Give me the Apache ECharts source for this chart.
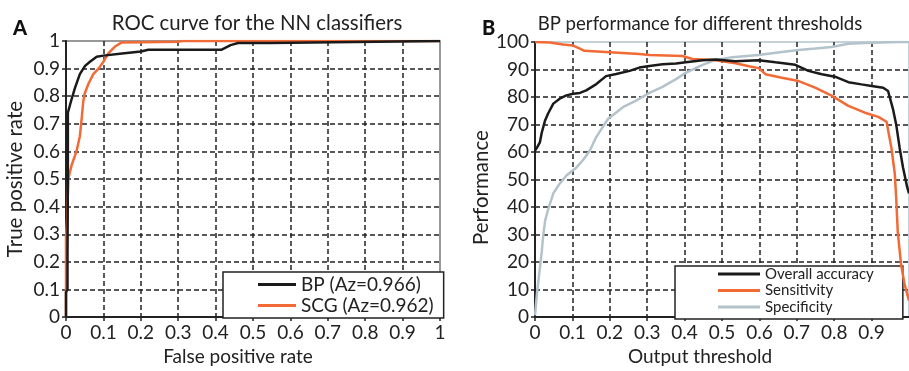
<!DOCTYPE html>
<html>
<head>
<meta charset="utf-8">
<script src="https://cdn.jsdelivr.net/npm/echarts@6/dist/echarts.min.js"></script>
<style>html,body{margin:0;padding:0;background:#fff;}#c{width:909px;height:371px;}</style>
</head>
<body>
<div id="c"></div>
<script>
// ---- Data ----
const rocTicks = [0, 0.1, 0.2, 0.3, 0.4, 0.5, 0.6, 0.7, 0.8, 0.9, 1];
const perfTicks = [0, 10, 20, 30, 40, 50, 60, 70, 80, 90, 100];

// ROC curve, BP classifier: [false positive rate, true positive rate]
const bpRoc = [[0,0],[0,0.09],[0.004,0.1],[0.004,0.23],[0.005,0.5],[0.005,0.74],[0.013,0.78],[0.024,0.83],[0.037,0.88],[0.051,0.91],[0.064,0.925],[0.082,0.943],[0.1,0.947],[0.15,0.955],[0.2,0.962],[0.22,0.968],[0.415,0.968],[0.44,0.985],[0.46,0.993],[0.545,0.993],[0.55,1],[1,1]];
// ROC curve, SCG classifier
const scgRoc = [[0,0],[0,0.29],[0.003,0.35],[0.006,0.5],[0.015,0.55],[0.028,0.6],[0.037,0.655],[0.042,0.72],[0.046,0.78],[0.05,0.81],[0.06,0.845],[0.073,0.88],[0.087,0.9],[0.1,0.925],[0.113,0.955],[0.131,0.98],[0.149,0.995],[0.3,0.997],[0.31,1],[1,1]];

// BP performance vs output threshold: [threshold, %]
const accuracy = [[0,60.5],[0.005,61.5],[0.013,63.5],[0.018,67],[0.027,71.5],[0.035,74],[0.049,77.6],[0.066,79.4],[0.084,80.6],[0.102,81.2],[0.12,81.5],[0.137,82.4],[0.164,84.7],[0.19,87.6],[0.217,88.4],[0.253,89.5],[0.279,90.7],[0.306,91.3],[0.341,91.9],[0.377,92.2],[0.403,92.6],[0.448,93.4],[0.483,93.6],[0.536,93.0],[0.598,93.4],[0.643,92.6],[0.696,91.7],[0.731,89.5],[0.767,88.3],[0.802,87.4],[0.838,85.4],[0.873,84.6],[0.9,84.0],[0.931,83.4],[0.944,82.2],[0.957,75.7],[0.966,69.8],[0.975,61.5],[0.984,54.4],[0.995,47.3],[1,45]];
const sensitivity = [[0,100],[0.04,99.8],[0.075,99.1],[0.102,98.7],[0.12,97.6],[0.132,96.8],[0.2,96.3],[0.279,95.6],[0.306,95.3],[0.394,94.9],[0.421,93.8],[0.474,93.5],[0.536,92.3],[0.572,91.2],[0.598,90.5],[0.616,88.3],[0.66,87.0],[0.705,85.8],[0.749,83.4],[0.793,80.5],[0.838,76.8],[0.882,74.3],[0.918,72.8],[0.94,71.0],[0.953,61.5],[0.962,52.1],[0.966,42.6],[0.97,30.8],[0.979,18.9],[0.988,12],[1,6]];
const specificity = [[0,0.6],[0.005,8.3],[0.013,17.8],[0.018,23.7],[0.022,29.6],[0.027,35],[0.035,39.1],[0.049,45],[0.066,48.5],[0.084,51.5],[0.111,54.4],[0.128,57],[0.146,60.4],[0.164,65.5],[0.195,72],[0.235,76.3],[0.27,78.7],[0.306,81.5],[0.341,83.7],[0.377,86.5],[0.403,88.8],[0.448,91.7],[0.483,93.5],[0.527,94.5],[0.598,95.3],[0.66,96.4],[0.705,97.1],[0.749,97.6],[0.793,98.2],[0.838,99.4],[0.882,99.6],[0.97,100],[1,100]];

const FONT = 'Lato';
const DARK = '#1a1a1a';
const ORANGE = '#f26a35';
const LIGHT = '#b3c3cb';

const dashed = { show: true, showMinLine: false, showMaxLine: false, lineStyle: { color: '#222', width: 1.5, type: [5, 3] } };
const axisLabel = { color: '#222', fontFamily: FONT, fontSize: 19, margin: 6 };
const axisTick = { show: true, inside: false, length: 4, lineStyle: { color: '#222', width: 1.5 } };
const axisLine = { show: true, onZero: false, lineStyle: { color: '#222', width: 2 } };
const xNameStyle = { color: '#222', fontFamily: FONT, fontSize: 19 };
const yNameStyle = { color: '#222', fontFamily: FONT, fontSize: 20.5 };

const chart = echarts.init(document.getElementById('c'), null, { renderer: 'canvas' });
chart.setOption({
  animation: false,
  backgroundColor: '#fff',
  title: [
    { text: 'A', left: 8, top: 14, textStyle: { fontFamily: FONT, fontWeight: 900, fontSize: 20, color: '#111' } },
    { text: 'ROC curve for the NN classifiers', left: 252, textAlign: 'center', top: 8, textStyle: { fontFamily: FONT, fontWeight: 'normal', fontSize: 20.4, color: '#222' } },
    { text: 'B', left: 477, top: 14, textStyle: { fontFamily: FONT, fontWeight: 900, fontSize: 20, color: '#111' } },
    { text: 'BP performance for different thresholds', left: 695, textAlign: 'center', top: 9, textStyle: { fontFamily: FONT, fontWeight: 'normal', fontSize: 18.6, color: '#222' } }
  ],
  grid: [
    { left: 66, right: 469, top: 41, bottom: 49, show: true, borderColor: '#777', borderWidth: 1.5, containLabel: false },
    { left: 535, right: -3, top: 42, bottom: 48, show: true, borderColor: LIGHT, borderWidth: 1.5, containLabel: false }
  ],
  legend: [
    {
      orient: 'vertical', left: 223, top: 272, padding: [3, 10, 3, 35],
      borderColor: '#222', borderWidth: 1.5, backgroundColor: '#fff',
      itemWidth: 38, itemHeight: 3, itemGap: 2, icon: 'rect',
      textStyle: { fontFamily: FONT, fontSize: 19, color: '#222' },
      data: ['BP (Az=0.966)', 'SCG (Az=0.962)']
    },
    {
      orient: 'vertical', left: 675, top: 266, padding: [0, 29, 4, 43],
      borderColor: '#222', borderWidth: 1.5, backgroundColor: '#fff',
      itemWidth: 42, itemHeight: 3, itemGap: 0.5, icon: 'rect',
      textStyle: { fontFamily: FONT, fontSize: 15, color: '#222', lineHeight: 16 },
      data: ['Overall accuracy', 'Sensitivity', 'Specificity']
    }
  ],
  xAxis: [
    { gridIndex: 0, type: 'value', min: 0, max: 1, interval: 0.1, name: 'False positive rate', nameLocation: 'middle', nameGap: 25,
      nameTextStyle: Object.assign({}, xNameStyle, { padding: [0, 30, 0, 0] }),
      axisLine, axisTick, axisLabel, splitLine: dashed },
    { gridIndex: 1, type: 'value', min: 0, max: 1, interval: 0.1, name: 'Output threshold', nameLocation: 'middle', nameGap: 25,
      nameTextStyle: Object.assign({}, xNameStyle, { padding: [0, 44, 0, 0] }),
      axisLine, axisTick, axisLabel: Object.assign({}, axisLabel, { showMaxLabel: false }), splitLine: dashed }
  ],
  yAxis: [
    { gridIndex: 0, type: 'value', min: 0, max: 1, interval: 0.1, name: 'True positive rate', nameLocation: 'middle', nameGap: 40,
      nameTextStyle: yNameStyle,
      axisLine, axisTick, axisLabel, splitLine: dashed },
    { gridIndex: 1, type: 'value', min: 0, max: 100, interval: 10, name: 'Performance', nameLocation: 'middle', nameGap: 38,
      nameTextStyle: Object.assign({}, yNameStyle, { padding: [0, 16, 0, 0] }),
      axisLine, axisTick, axisLabel, splitLine: dashed }
  ],
  series: [
    { name: 'SCG (Az=0.962)', type: 'line', xAxisIndex: 0, yAxisIndex: 0, data: scgRoc, showSymbol: false, symbol: 'none', lineStyle: { color: ORANGE, width: 2.5 }, itemStyle: { color: ORANGE }, z: 3 },
    { name: 'BP (Az=0.966)', type: 'line', xAxisIndex: 0, yAxisIndex: 0, data: bpRoc, showSymbol: false, symbol: 'none', lineStyle: { color: DARK, width: 2.5 }, itemStyle: { color: DARK }, z: 4 },
    { name: 'Specificity', type: 'line', xAxisIndex: 1, yAxisIndex: 1, data: specificity, showSymbol: false, symbol: 'none', lineStyle: { color: LIGHT, width: 2.5 }, itemStyle: { color: LIGHT }, z: 3 },
    { name: 'Sensitivity', type: 'line', xAxisIndex: 1, yAxisIndex: 1, data: sensitivity, showSymbol: false, symbol: 'none', lineStyle: { color: ORANGE, width: 2.5 }, itemStyle: { color: ORANGE }, z: 4 },
    { name: 'Overall accuracy', type: 'line', xAxisIndex: 1, yAxisIndex: 1, data: accuracy, showSymbol: false, symbol: 'none', lineStyle: { color: DARK, width: 2.5 }, itemStyle: { color: DARK }, z: 5 }
  ]
});
</script>
</body>
</html>
